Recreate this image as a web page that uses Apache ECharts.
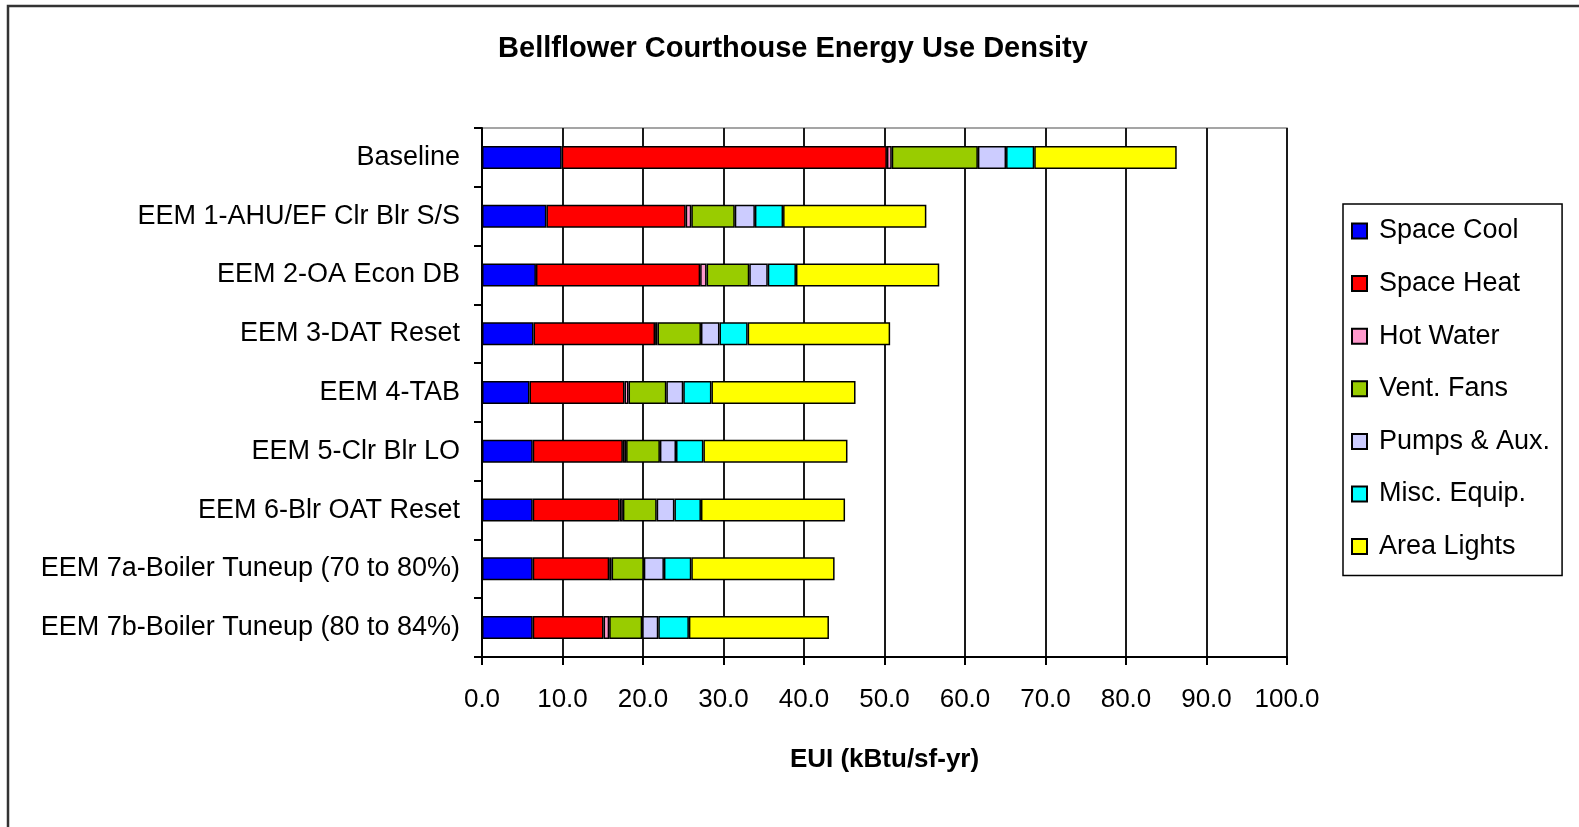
<!DOCTYPE html>
<html>
<head>
<meta charset="utf-8">
<style>
  html, body { margin: 0; padding: 0; background: #fff; }
  #chart { width: 1579px; height: 827px; }
</style>
<script src="https://cdn.jsdelivr.net/npm/echarts@6/dist/echarts.min.js"></script>
</head>
<body>
<div id="chart"></div>
<script>
// Measures, top to bottom
const categories = [
  'Baseline',
  'EEM 1-AHU/EF Clr Blr S/S',
  'EEM 2-OA Econ DB',
  'EEM 3-DAT Reset',
  'EEM 4-TAB',
  'EEM 5-Clr Blr LO',
  'EEM 6-Blr OAT Reset',
  'EEM 7a-Boiler Tuneup (70 to 80%)',
  'EEM 7b-Boiler Tuneup (80 to 84%)'
];

// End-use EUI values, kBtu/sf-yr
const spaceCool = [9.9, 8.0, 6.7, 6.4, 5.9, 6.3, 6.3, 6.3, 6.3];
const spaceHeat = [40.4, 17.3, 20.4, 15.1, 11.8, 11.2, 10.8, 9.5, 8.8];
const hotWater  = [0.6, 0.7, 0.8, 0.3, 0.5, 0.4, 0.4, 0.3, 0.7];
const ventFans  = [10.7, 5.4, 5.3, 5.4, 4.7, 4.2, 4.2, 4.0, 4.1];
const pumpsAux  = [3.5, 2.5, 2.3, 2.3, 2.1, 2.0, 2.2, 2.5, 2.0];
const miscEquip = [3.5, 3.5, 3.5, 3.5, 3.5, 3.4, 3.3, 3.4, 3.8];
const areaLights = [17.7, 17.8, 17.8, 17.7, 17.9, 17.9, 17.9, 17.8, 17.4];

const seriesNames = ['Space Cool', 'Space Heat', 'Hot Water', 'Vent. Fans', 'Pumps & Aux.', 'Misc. Equip.', 'Area Lights'];
const seriesData = [spaceCool, spaceHeat, hotWater, ventFans, pumpsAux, miscEquip, areaLights];
const seriesColors = ['#0000FF', '#FF0000', '#FF99CC', '#99CC00', '#CCCCFF', '#00FFFF', '#FFFF00'];

const FONT = "'Liberation Sans', Arial, sans-serif";

const chart = echarts.init(document.getElementById('chart'), null, { renderer: 'canvas' });

chart.setOption({
  animation: false,
  backgroundColor: '#fff',
  textStyle: { fontFamily: FONT, color: '#000' },
  graphic: [
    {
      type: 'rect',
      shape: { x: 8, y: 6, width: 1600, height: 860 },
      style: { fill: 'none', stroke: '#333', lineWidth: 2.5 },
      z: 0
    },
    {
      type: 'text',
      x: 793, y: 49,
      style: {
        text: 'Bellflower Courthouse Energy Use Density',
        font: "bold 29px " + FONT,
        fill: '#000',
        textAlign: 'center',
        textVerticalAlign: 'middle'
      }
    }
  ],
  grid: {
    left: 482, right: 292, top: 128, bottom: 170,
    show: true,
    borderColor: '#888',
    borderWidth: 1.5,
    containLabel: false
  },
  legend: {
    orient: 'vertical',
    left: 1343, top: 204,
    data: seriesNames,
    icon: 'rect',
    itemWidth: 15, itemHeight: 15,
    itemGap: 22.6,
    padding: [12, 12, 14, 8],
    borderColor: '#000',
    borderWidth: 1.5,
    textStyle: { fontSize: 27, fontFamily: FONT, color: '#000', lineHeight: 30, padding: [0, 0, 0, 7] }
  },
  xAxis: {
    type: 'value',
    min: 0, max: 100, interval: 10,
    axisLine: { show: true, lineStyle: { color: '#000', width: 2 } },
    axisTick: { show: true, length: 8, lineStyle: { color: '#000', width: 2 } },
    axisLabel: {
      fontSize: 26, fontFamily: FONT, color: '#000', margin: 30,
      formatter: v => v.toFixed(1)
    },
    splitLine: { show: true, lineStyle: { color: '#1a1a1a', width: 2 } },
    name: 'EUI (kBtu/sf-yr)',
    nameLocation: 'middle',
    nameGap: 90,
    nameTextStyle: { fontSize: 26, fontWeight: 'bold', fontFamily: FONT, color: '#000' }
  },
  yAxis: {
    type: 'category',
    data: categories,
    inverse: true,
    axisLine: { show: true, lineStyle: { color: '#000', width: 2 } },
    axisTick: { show: true, length: 8, alignWithLabel: false, lineStyle: { color: '#000', width: 2 } },
    axisLabel: { fontSize: 27, fontFamily: FONT, color: '#000', margin: 22 },
    splitLine: { show: false }
  },
  series: seriesNames.map((name, i) => ({
    name: name,
    type: 'bar',
    stack: 'eui',
    data: seriesData[i],
    barWidth: 23,
    itemStyle: { color: seriesColors[i], borderColor: '#000', borderWidth: 1.5 },
    emphasis: { disabled: true }
  }))
});
</script>
</body>
</html>
